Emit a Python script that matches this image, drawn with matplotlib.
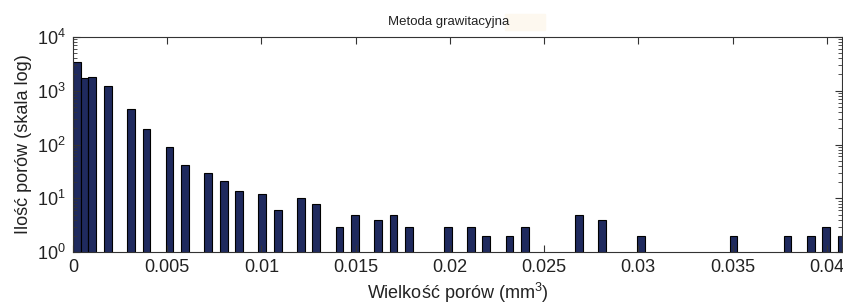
import numpy as np
import matplotlib.pyplot as plt
from matplotlib.patches import Rectangle
from matplotlib.ticker import LogLocator, FixedLocator

plt.rcParams['font.family'] = ['Liberation Sans', 'DejaVu Sans']
plt.rcParams['mathtext.default'] = 'regular'

# pore size bins (mm^3), bar centres
pore_size = [0.000205, 0.000615, 0.001025, 0.001845, 0.003075, 0.003895,
             0.005125, 0.005945, 0.007175, 0.007995, 0.008815, 0.010045,
             0.010865, 0.012095, 0.012915, 0.014145, 0.014965, 0.016195,
             0.017015, 0.017835, 0.019885, 0.021115, 0.021935, 0.023165,
             0.023985, 0.026855, 0.028085, 0.030135, 0.035055, 0.037925,
             0.039155, 0.039975, 0.040795]
# number of pores in each bin
pore_count = [3440, 1735, 1810, 1233, 450, 191,
              91, 42, 29, 21, 14, 12,
              6, 10, 8, 3, 5, 4,
              5, 3, 3, 3, 2, 2,
              3, 5, 4, 2, 2, 2,
              2, 3, 2]
bin_width = 0.00041

x_ticks = [0, 0.005, 0.01, 0.015, 0.02, 0.025, 0.03, 0.035, 0.04]
x_labels = ['0', '0.005', '0.01', '0.015', '0.02', '0.025', '0.03', '0.035', '0.04']

fig = plt.figure(figsize=(8.43, 3.07), dpi=100)
ax = fig.add_axes([73/843, 1 - 252.3/307, 769/843, 215.6/307])

ax.set_yscale('log')
ax.bar(pore_size, pore_count, width=bin_width,
       color='#1f2a5e', edgecolor='black', linewidth=0.8)

ax.set_ylim(1, 1e4)
ax.set_xlim(0, 0.04081)
ax.set_xticks(x_ticks)
ax.set_xticklabels(x_labels)
ax.yaxis.set_major_locator(FixedLocator([1, 10, 100, 1000, 10000]))
ax.yaxis.set_minor_locator(LogLocator(base=10, subs=np.arange(2, 10), numticks=20))

ax.tick_params(axis='both', which='both', direction='in', top=True, right=True,
               labelsize=13, color='#333333', labelcolor='#222222')
ax.tick_params(axis='both', which='major', length=5, width=0.8, pad=5)
ax.tick_params(axis='y', which='minor', length=3, width=0.6)
ax.tick_params(axis='x', which='minor', bottom=False, top=False)
for s in ax.spines.values():
    s.set_color('#333333')
    s.set_linewidth(0.8)

ax.set_xlabel('Wielkość porów (mm$^3$)', fontsize=13, color='#222222', labelpad=3)
ax.set_ylabel('Ilość porów (skala log)', fontsize=13, color='#222222', labelpad=4)

fig.text(449/843, 1 - 22/307, 'Metoda grawitacyjna', ha='center', va='center',
         fontsize=9.5, color='#222222')
fig.patches.append(Rectangle((505/843, 1 - 30/307), 40/843, 16/307,
                             transform=fig.transFigure, color='#fdf8ef', zorder=0))

fig.savefig('out.png', dpi=100)
